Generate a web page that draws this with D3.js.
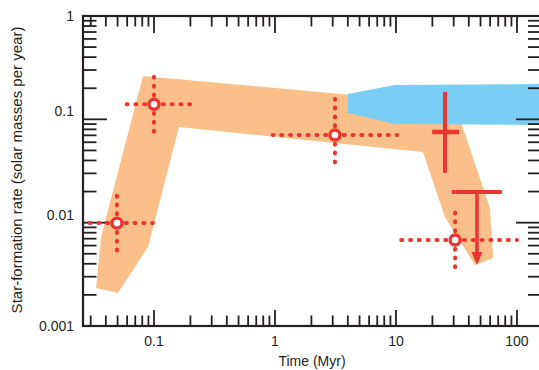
<!DOCTYPE html>
<html>
<head>
<meta charset="utf-8">
<script src="https://cdn.jsdelivr.net/npm/d3@7"></script>
<style>
  body { margin: 0; background: #fff; }
  text { font-family: "Liberation Sans", Arial, Helvetica, sans-serif; fill: #231f20; }
</style>
</head>
<body>
<div id="chart"></div>
<script>
// axis ticks
const timeTicks = [0.1, 1, 10, 100]
const timeLabels = ['0.1', '1', '10', '100']
const sfrTicks = [0.001, 0.01, 0.1, 1]
const sfrLabels = ['0.001', '0.01', '0.1', '1']

// orange band (model envelope), outline in data units (time Myr, SFR)
const bandT = [0.0332, 0.0365, 0.0811, 33.8, 35.1, 59.8, 63.4, 45.0, 25.4, 16.7, 0.161, 0.0892, 0.0503]
const bandS = [0.00233, 0.00727, 0.263, 0.138, 0.088, 0.0139, 0.00455, 0.00389, 0.01135, 0.0483, 0.0843, 0.00581, 0.00209]

// blue band
const blueT = [4.0, 9.8, 160, 160, 9.8, 4.0]
const blueS = [0.176, 0.215, 0.22, 0.088, 0.09, 0.115]

// open points with dotted error bars
const ptT = [0.0494, 0.1, 3.13, 30.8]
const ptS = [0.0099, 0.14, 0.0705, 0.0068]
const ptTlo = [0.0259, 0.0514, 0.96, 9.8]
const ptThi = [0.098, 0.202, 10.2, 100]
const ptSlo = [0.00455, 0.0645, 0.0323, 0.00311]
const ptShi = [0.0216, 0.30, 0.157, 0.0148]

// solid cross
const crossT = 25.4, crossS = 0.0754
const crossTlo = 19.9, crossThi = 33.2
const crossSlo = 0.0303, crossShi = 0.184

// upper limit
const limT = 46.7, limS = 0.0198, limTip = 0.0039
const limTlo = 29, limThi = 75

const W = 539, H = 370
const margin = { top: 16, right: -2, bottom: 44, left: 83 }
const width = W - margin.left - margin.right
const height = H - margin.top - margin.bottom

const RED = '#ec3431'
const ORANGE = '#fbc08a'
const BLUE = '#7acef3'

const svg = d3.select('#chart').append('svg')
  .attr('width', W)
  .attr('height', H)

const g = svg.append('g')
  .attr('transform', 'translate(' + margin.left + ',' + margin.top + ')')

const x = d3.scaleLog().domain([0.0259, 158]).range([0, width])
const y = d3.scaleLog().domain([0.001, 1]).range([height, 0])

const clip = svg.append('defs').append('clipPath').attr('id', 'plot')
clip.append('rect').attr('width', width).attr('height', height)

const plot = g.append('g').attr('clip-path', 'url(#plot)')

const poly = (ts, ss) => ts.map((t, i) => [x(t), y(ss[i])])

plot.append('polygon')
  .attr('points', poly(bandT, bandS).join(' '))
  .attr('fill', ORANGE)

plot.append('polygon')
  .attr('points', poly(blueT, blueS).join(' '))
  .attr('fill', BLUE)

// minor / major ticks
const isDecade = v => Math.abs(Math.log10(v) - Math.round(Math.log10(v))) < 1e-6
const xMinor = x.ticks(40).filter(v => !isDecade(v))
const yMinor = y.ticks(40).filter(v => !isDecade(v))

const axes = g.append('g').attr('stroke', '#231f20').attr('stroke-width', 1.8)

xMinor.forEach(v => {
  const px = x(v)
  axes.append('line').attr('x1', px).attr('x2', px).attr('y1', 0).attr('y2', 10.5)
  axes.append('line').attr('x1', px).attr('x2', px).attr('y1', height).attr('y2', height - 10.5)
})
timeTicks.forEach(v => {
  const px = x(v)
  axes.append('line').attr('x1', px).attr('x2', px).attr('y1', 0).attr('y2', 17)
  axes.append('line').attr('x1', px).attr('x2', px).attr('y1', height).attr('y2', height - 16)
})
yMinor.forEach(v => {
  const py = y(v)
  axes.append('line').attr('x1', 0).attr('x2', 13.5).attr('y1', py).attr('y2', py)
  axes.append('line').attr('x1', width).attr('x2', width - 13).attr('y1', py).attr('y2', py)
})
sfrTicks.forEach(v => {
  const py = y(v)
  axes.append('line').attr('x1', 0).attr('x2', 24).attr('y1', py).attr('y2', py)
  axes.append('line').attr('x1', width).attr('x2', width - 25).attr('y1', py).attr('y2', py)
})

g.append('rect')
  .attr('width', width)
  .attr('height', height)
  .attr('fill', 'none')
  .attr('stroke', '#231f20')
  .attr('stroke-width', 2.2)

// tick labels
g.selectAll('.xl').data(timeTicks).enter().append('text')
  .attr('x', d => x(d))
  .attr('y', height + 20)
  .attr('text-anchor', 'middle')
  .style('font-size', '14px')
  .text((d, i) => timeLabels[i])

g.selectAll('.yl').data(sfrTicks).enter().append('text')
  .attr('x', -9)
  .attr('y', d => y(d))
  .attr('dy', d => (d === 0.1 || d === 0.01) ? -3 : 5)
  .attr('text-anchor', 'end')
  .style('font-size', '14px')
  .text((d, i) => sfrLabels[i])

g.append('text')
  .attr('x', width / 2)
  .attr('y', height + 40)
  .attr('text-anchor', 'middle')
  .style('font-size', '14px')
  .text('Time (Myr)')

g.append('text')
  .attr('transform', 'translate(' + (-61) + ',' + (height / 2 - 1) + ') rotate(-90)')
  .attr('text-anchor', 'middle')
  .style('font-size', '15px')
  .text('Star-formation rate (solar masses per year)')

// red marks
const marks = g.append('g')

ptT.forEach((t, i) => {
  const cx = x(t), cy = y(ptS[i])
  const arms = [[x(ptTlo[i]), cy], [x(ptThi[i]), cy], [cx, y(ptSlo[i])], [cx, y(ptShi[i])]]
  arms.forEach(([ex, ey]) => {
    marks.append('line')
      .attr('x1', cx).attr('y1', cy).attr('x2', ex).attr('y2', ey)
      .attr('stroke', RED)
      .attr('stroke-width', 4)
      .attr('stroke-linecap', 'round')
      .attr('stroke-dasharray', '1,7.8')
  })
  marks.append('circle')
    .attr('cx', cx).attr('cy', cy).attr('r', 5)
    .attr('fill', '#fff')
    .attr('stroke', RED)
    .attr('stroke-width', 3.4)
})

marks.append('line')
  .attr('x1', x(crossT)).attr('x2', x(crossT))
  .attr('y1', y(crossShi)).attr('y2', y(crossSlo))
  .attr('stroke', RED).attr('stroke-width', 4)
marks.append('line')
  .attr('x1', x(crossTlo)).attr('x2', x(crossThi))
  .attr('y1', y(crossS)).attr('y2', y(crossS))
  .attr('stroke', RED).attr('stroke-width', 4.5)

const lx = x(limT), ly = y(limS), tipY = y(limTip)
marks.append('line')
  .attr('x1', x(limTlo)).attr('x2', x(limThi))
  .attr('y1', ly).attr('y2', ly)
  .attr('stroke', RED).attr('stroke-width', 4)
marks.append('line')
  .attr('x1', lx).attr('x2', lx)
  .attr('y1', ly).attr('y2', tipY - 10)
  .attr('stroke', RED).attr('stroke-width', 3.5)
marks.append('path')
  .attr('d', 'M' + (lx - 5.5) + ',' + (tipY - 13) + 'L' + (lx + 5.5) + ',' + (tipY - 13) + 'L' + lx + ',' + tipY + 'Z')
  .attr('fill', RED)
</script>
</body>
</html>
